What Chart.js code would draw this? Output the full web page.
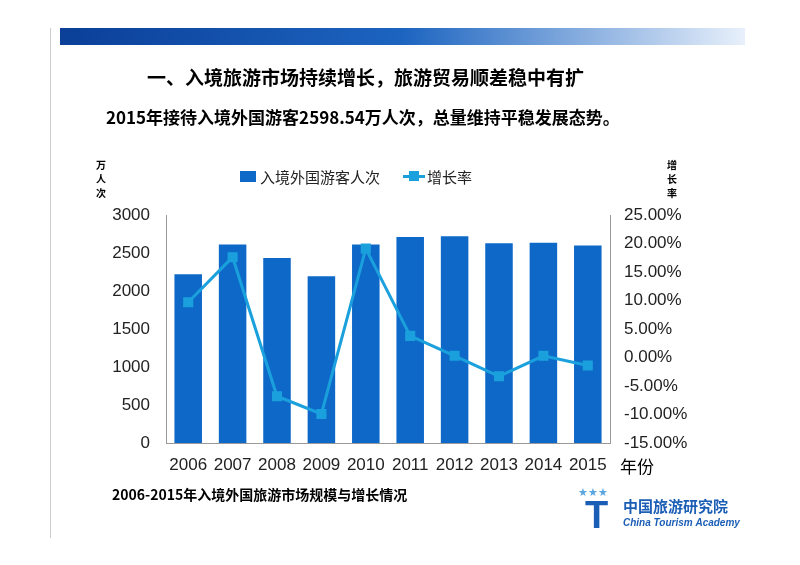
<!DOCTYPE html>
<html><head><meta charset="utf-8">
<script src="https://cdn.jsdelivr.net/npm/chart.js@4"></script>
<style>html,body{margin:0;padding:0;background:#fff}#c{display:block}</style>
</head><body>
<canvas id="c" width="800" height="565"></canvas>
<script>
const years = ['2006','2007','2008','2009','2010','2011','2012','2013','2014','2015'];
const visitors = [2221, 2611, 2433, 2193, 2612, 2711, 2719, 2629, 2636, 2599];
const growth = [9.7, 17.6, -6.8, -9.9, 19.1, 3.8, 0.3, -3.3, 0.3, -1.4];
const leftTicks = [0, 500, 1000, 1500, 2000, 2500, 3000];

const BAR = '#0e68c8', LINE = '#1aa0dc';
const deco = {
  id: 'deco',
  beforeDraw(chart) {
    const c = chart.ctx;
    c.save();
    const g = c.createLinearGradient(60, 0, 745, 0);
    g.addColorStop(0, '#0b3f98'); g.addColorStop(0.5, '#1c64c0'); g.addColorStop(1, '#e8f0fb');
    c.fillStyle = g; c.fillRect(60, 28, 685, 17);
    c.fillStyle = '#cccccc'; c.fillRect(50, 28, 1, 510);
    c.fillStyle = '#000';
    c.font = 'bold 19px "Noto Sans CJK SC"'; c.textBaseline = 'middle'; c.textAlign = 'left';
    c.fillText('一、入境旅游市场持续增长，旅游贸易顺差稳中有扩', 147, 78);
    c.font = 'bold 17px "Noto Sans CJK SC"';
    c.fillText('2015年接待入境外国游客2598.54万人次，总量维持平稳发展态势。', 106, 118);
    c.font = 'bold 14px "Noto Sans CJK SC"';
    c.fillText('2006-2015年入境外国旅游市场规模与增长情况', 112, 495);
    c.font = 'bold 10px "Noto Sans CJK SC"'; c.textAlign = 'center';
    ['万','人','次'].forEach((t,i)=>c.fillText(t, 101, 165 + i*14));
    ['增','长','率'].forEach((t,i)=>c.fillText(t, 672, 165 + i*14));
    c.font = '17px "Noto Sans CJK SC"'; c.textAlign = 'left';
    c.fillText('年份', 620, 467);
    c.fillStyle = BAR; c.fillRect(240, 171, 16, 11);
    c.fillStyle = '#222'; c.font = '15px "Noto Sans CJK SC"';
    c.fillText('入境外国游客人次', 260, 177);
    c.fillStyle = LINE; c.fillRect(403, 175, 22, 3); c.fillRect(409, 171, 10, 10);
    c.fillStyle = '#222'; c.fillText('增长率', 427, 177);
    c.fillStyle = '#1b5eb5'; c.font = 'bold 15px "Noto Sans CJK SC"';
    c.fillText('中国旅游研究院', 623, 506);
    c.font = 'bold italic 10px Arial'; c.fillText('China Tourism Academy', 623, 523);
    c.font = 'bold 38px Arial'; c.fillStyle = '#1b5eb5'; c.fillText('T', 585, 518);
    c.fillStyle = '#5aa6e0'; c.font = '11px Arial';
    c.fillText('★★★', 578, 493);
    c.restore();
  }
};
new Chart(document.getElementById('c'), {
  data: {
    labels: years,
    datasets: [
      { type: 'line', data: growth, yAxisID: 'y2', borderColor: LINE, backgroundColor: LINE,
        borderWidth: 3, pointStyle: 'rect', pointRadius: 5, tension: 0, order: 0 },
      { type: 'bar', data: visitors, yAxisID: 'y', backgroundColor: BAR,
        categoryPercentage: 1, barPercentage: 0.62, order: 1 }
    ]
  },
  options: {
    responsive: false, animation: false, devicePixelRatio: 1,
    layout: { padding: { top: 215, left: 0, right: 0, bottom: 0 } },
    plugins: { legend: { display: false }, tooltip: { enabled: false } },
    scales: {
      x: { grid: { display: false }, border: { color: '#999' },
        ticks: { color: '#222', font: { size: 17, family: 'Arial' }, padding: 4 },
        afterFit(s) { s.height = 122; } },
      y: { position: 'left', min: 0, max: 3000, grid: { display: false }, border: { color: '#999' },
        afterBuildTicks(s) { s.ticks = leftTicks.map(v => ({ value: v })); },
        ticks: { color: '#222', font: { size: 17, family: 'Arial' }, padding: 8, callback: v => String(v) },
        afterFit(s) { s.width = 166; } },
      y2: { position: 'right', min: -15, max: 25, grid: { display: false }, border: { color: '#999' },
        ticks: { stepSize: 5, color: '#222', font: { size: 17, family: 'Arial' }, padding: 6,
          callback: v => v.toFixed(2) + '%' },
        afterFit(s) { s.width = 190; } }
    }
  },
  plugins: [deco]
});
</script>
</body></html>
